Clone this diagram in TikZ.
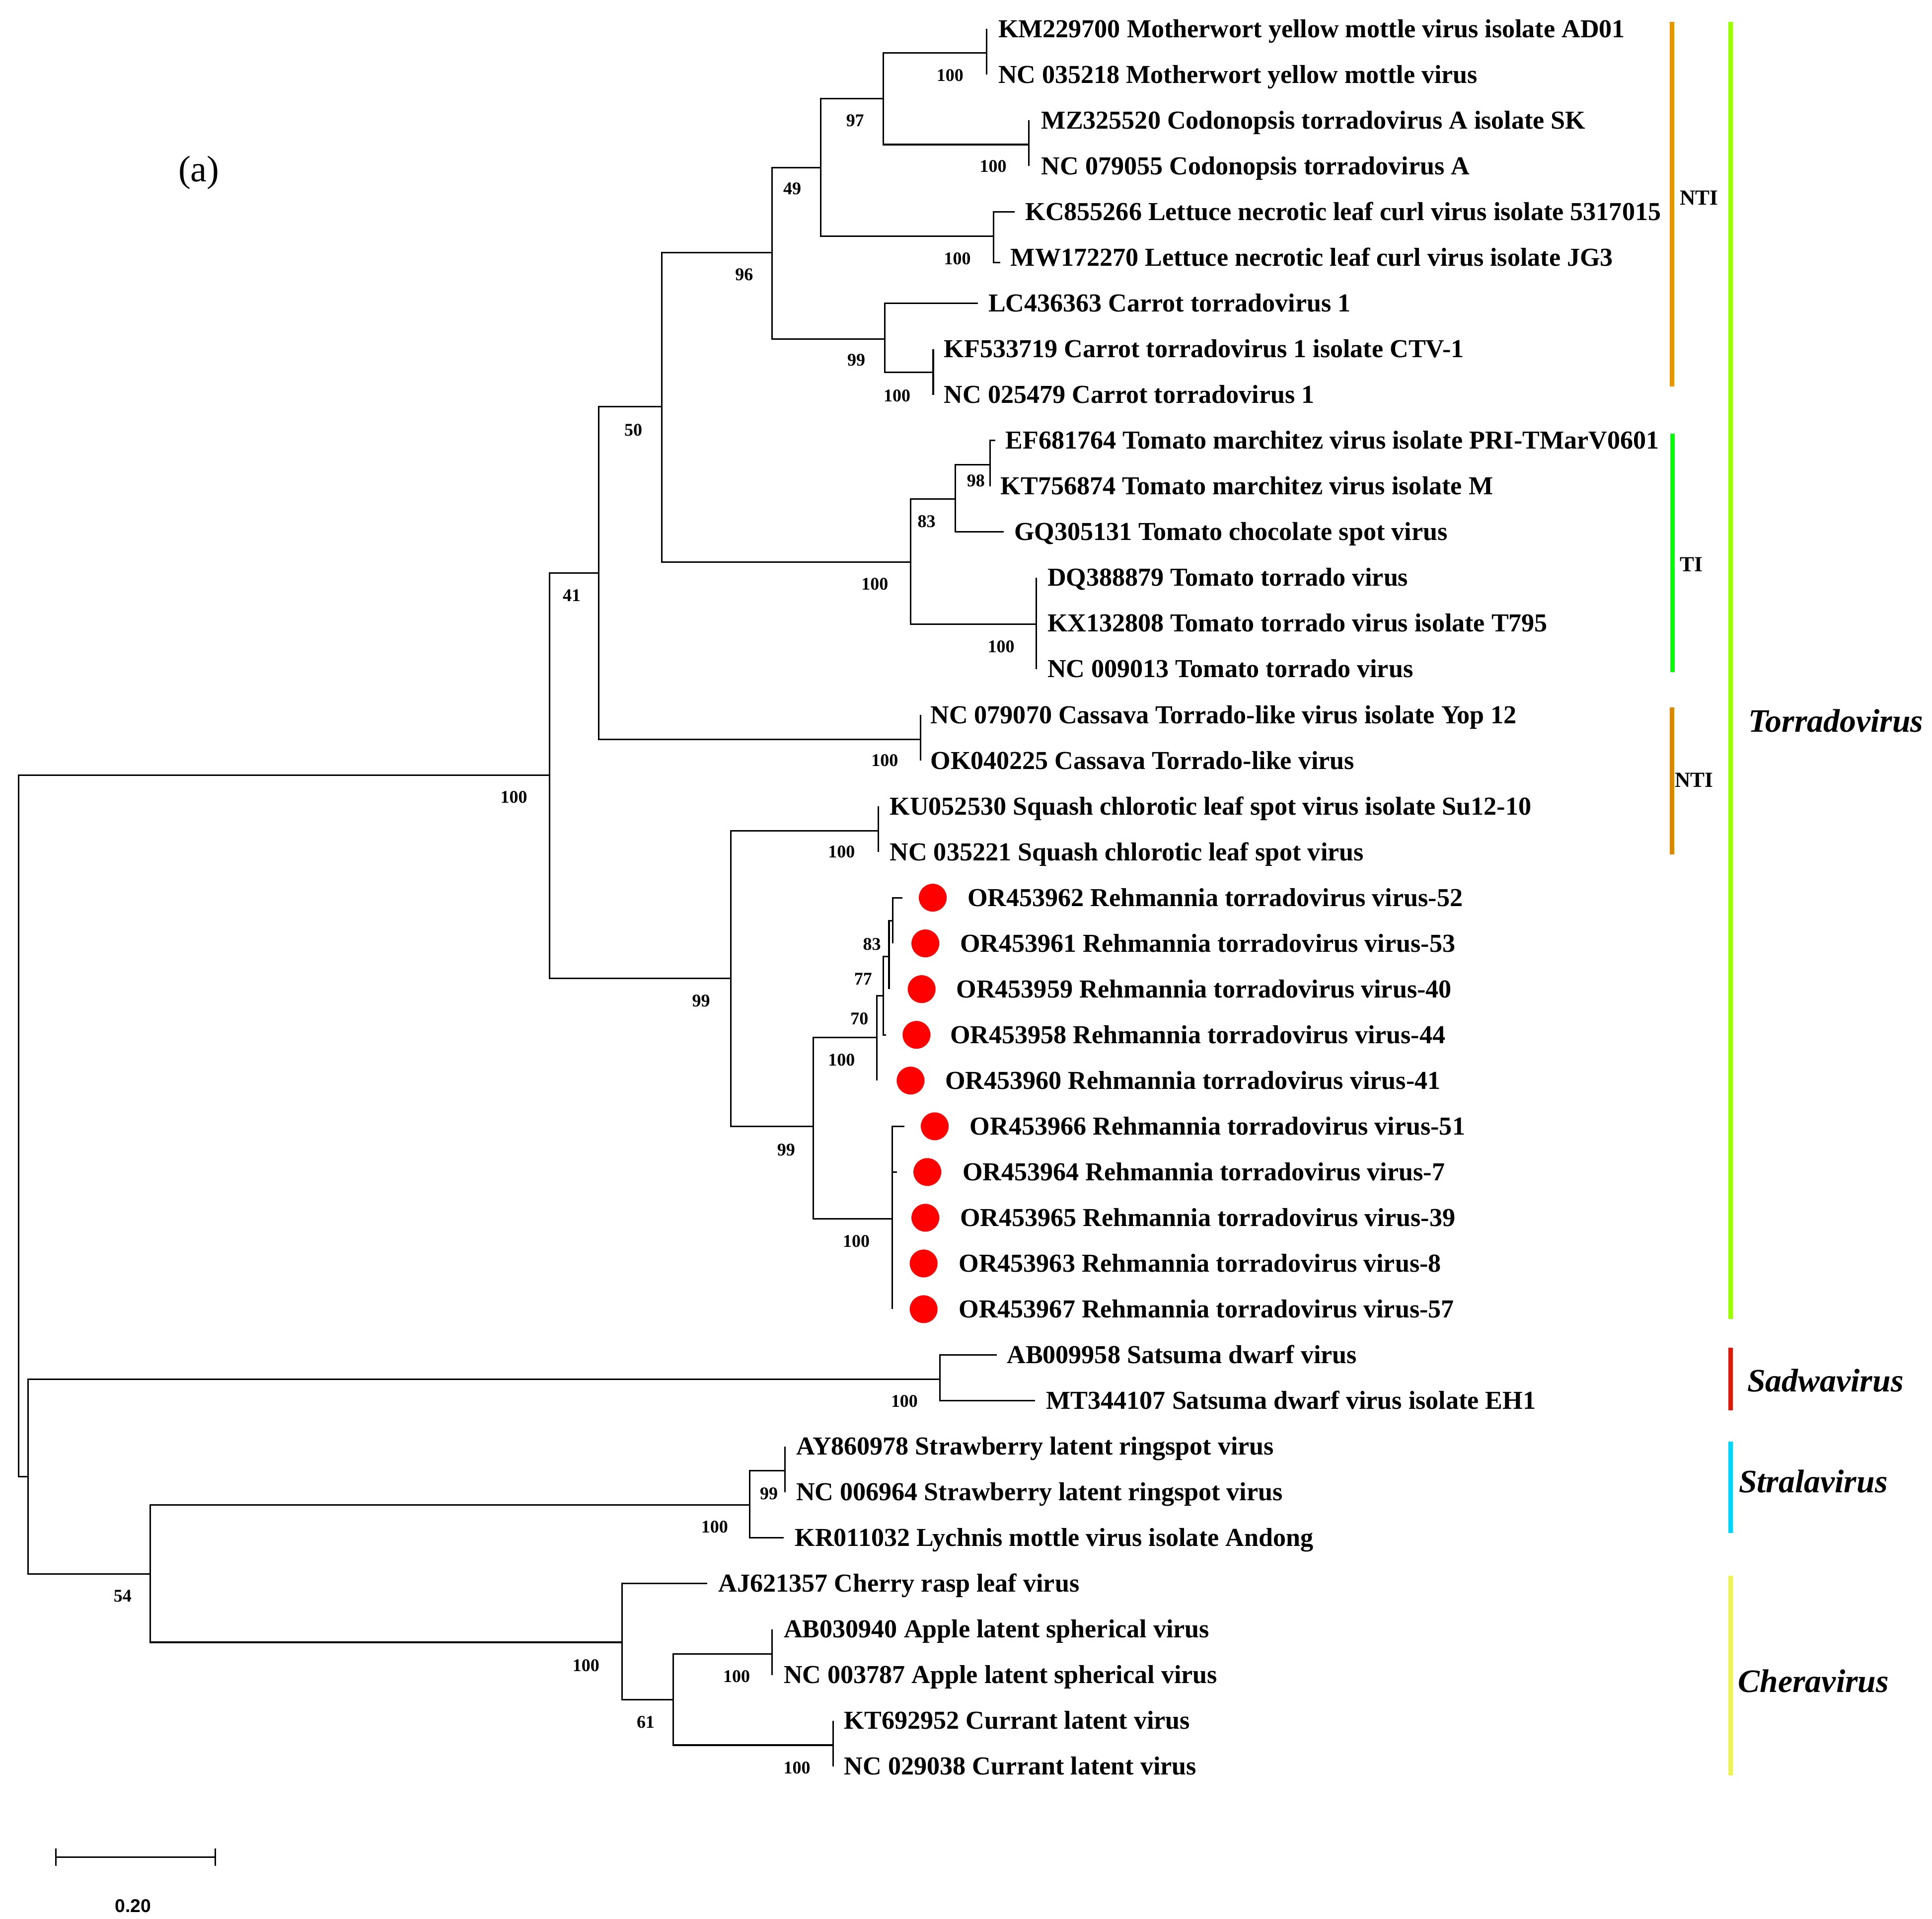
\documentclass[tikz,border=0pt]{standalone}
\usepackage{fontspec}
\setmainfont{Liberation Serif}
\newfontfamily\lsans{Liberation Sans}
\definecolor{ntiA}{RGB}{230,149,0}
\definecolor{ntiB}{RGB}{218,136,0}
\definecolor{tiG}{RGB}{0,255,0}
\definecolor{torG}{RGB}{153,255,0}
\definecolor{sadR}{RGB}{221,26,10}
\definecolor{strC}{RGB}{0,212,255}
\definecolor{cheY}{RGB}{238,242,90}
\begin{document}
\begin{tikzpicture}[x=1pt,y=-1pt,
  br/.style={line width=1.25pt, line join=miter},
  leaf/.style={anchor=base west, inner sep=0pt, font=\fontsize{21}{25}\selectfont\bfseries},
  bs/.style={anchor=center, inner sep=0pt, font=\fontsize{14.5}{17}\selectfont\bfseries},
  rdot/.style={circle, fill=red, draw=none, inner sep=0pt, minimum size=22.6pt},
  cbar/.style={line width=3.6pt},
  clade/.style={anchor=center, inner sep=0pt, font=\fontsize{17.5}{20}\selectfont\bfseries},
  genus/.style={anchor=west, inner sep=0pt, font=\fontsize{26.5}{30}\selectfont\bfseries\itshape},
]
\useasboundingbox (0,0) rectangle (1568,1557);

% ---------- internal nodes ----------
\coordinate (root) at (15,913);
\coordinate (nT) at (446,629);
\coordinate (n41) at (486,465);
\coordinate (n50) at (537,330);
\coordinate (n96) at (626.5,205);
\coordinate (n49) at (666,136);
\coordinate (n97) at (717,80);
\coordinate (nMot) at (800.6,43);
\coordinate (nCod) at (835,117.3);
\coordinate (nLet) at (806.5,191.6);
\coordinate (nCar) at (718,275);
\coordinate (nCarB) at (757.4,302);
\coordinate (nTom) at (739,456);
\coordinate (n83) at (775.2,405);
\coordinate (n98) at (803.4,377);
\coordinate (nTT) at (841,506.5);
\coordinate (nCas) at (747,600);
\coordinate (n99a) at (593,794);
\coordinate (nSq) at (713,674);
\coordinate (n99b) at (660,914);
\coordinate (nR1) at (711.5,842);
\coordinate (n70) at (716.7,808);
\coordinate (n77) at (721.5,776);
\coordinate (n83b) at (724.5,747);
\coordinate (nR2) at (724,989);
\coordinate (nB) at (22.8,1198);
\coordinate (nSad) at (763,1119);
\coordinate (n54) at (122,1277);
\coordinate (nStr) at (608.5,1221);
\coordinate (n99c) at (637,1193.4);
\coordinate (nChe) at (505,1332.6);
\coordinate (n61) at (546.4,1379);
\coordinate (nApp) at (626.7,1342);
\coordinate (nCur) at (676,1416);

% ---------- leaf tips ----------
\coordinate (L1) at (800.6,23.5);
\coordinate (L2) at (800.6,60.6);
\coordinate (L3) at (835,97.7);
\coordinate (L4) at (835,134.8);
\coordinate (L5) at (823.4,171.9);
\coordinate (L6) at (812,213);
\coordinate (L7) at (793.5,246.1);
\coordinate (L8) at (757.4,283.2);
\coordinate (L9) at (757.4,320.3);
\coordinate (L10) at (807.6,357.4);
\coordinate (L11) at (803.4,394.5);
\coordinate (L12) at (814.6,431.6);
\coordinate (L13) at (841,468.7);
\coordinate (L14) at (841,505.8);
\coordinate (L15) at (841,542.9);
\coordinate (L16) at (747,580);
\coordinate (L17) at (747,617.1);
\coordinate (L18) at (713,654.2);
\coordinate (L19) at (713,691.3);
\coordinate (L20) at (732.4,728.4);
\coordinate (L21) at (724.5,765.5);
\coordinate (L22) at (721.5,802.6);
\coordinate (L23) at (719,839.7);
\coordinate (L24) at (711.5,876.8);
\coordinate (L25) at (734,913.9);
\coordinate (L26) at (728,951);
\coordinate (L27) at (724,988.1);
\coordinate (L28) at (724,1025.2);
\coordinate (L29) at (724,1062.3);
\coordinate (L30) at (809,1099.4);
\coordinate (L31) at (840,1136.5);
\coordinate (L32) at (637,1173.6);
\coordinate (L33) at (637,1210.7);
\coordinate (L34) at (636,1247.8);
\coordinate (L35) at (574,1284.9);
\coordinate (L36) at (626.7,1322);
\coordinate (L37) at (626.7,1359.1);
\coordinate (L38) at (676,1396.2);
\coordinate (L39) at (676,1433.3);

% ---------- branches ----------
\draw[br] (root) |- (nT);
\draw[br] (root) |- (nB);
\draw[br] (nT) |- (n41);
\draw[br] (nT) |- (n99a);
\draw[br] (n41) |- (n50);
\draw[br] (n41) |- (nCas);
\draw[br] (n50) |- (n96);
\draw[br] (n50) |- (nTom);
\draw[br] (n96) |- (n49);
\draw[br] (n96) |- (nCar);
\draw[br] (n49) |- (n97);
\draw[br] (n49) |- (nLet);
\draw[br] (n97) |- (nMot);
\draw[br] (n97) |- (nCod);
\draw[br] (nMot) |- (L1);
\draw[br] (nMot) |- (L2);
\draw[br] (nCod) |- (L3);
\draw[br] (nCod) |- (L4);
\draw[br] (nLet) |- (L5);
\draw[br] (nLet) |- (L6);
\draw[br] (nCar) |- (L7);
\draw[br] (nCar) |- (nCarB);
\draw[br] (nCarB) |- (L8);
\draw[br] (nCarB) |- (L9);
\draw[br] (nTom) |- (n83);
\draw[br] (nTom) |- (nTT);
\draw[br] (n83) |- (n98);
\draw[br] (n83) |- (L12);
\draw[br] (n98) |- (L10);
\draw[br] (n98) |- (L11);
\draw[br] (nTT) |- (L13);
\draw[br] (nTT) |- (L15);
\draw[br] (nCas) |- (L16);
\draw[br] (nCas) |- (L17);
\draw[br] (n99a) |- (nSq);
\draw[br] (n99a) |- (n99b);
\draw[br] (nSq) |- (L18);
\draw[br] (nSq) |- (L19);
\draw[br] (n99b) |- (nR1);
\draw[br] (n99b) |- (nR2);
\draw[br] (nR1) |- (n70);
\draw[br] (nR1) |- (L24);
\draw[br] (n70) |- (n77);
\draw[br] (n70) |- (L23);
\draw[br] (n77) |- (n83b);
\draw[br] (n77) |- (L22);
\draw[br] (n83b) |- (L20);
\draw[br] (n83b) |- (L21);
\draw[br] (nR2) |- (L25);
\draw[br] (nR2) |- (L26);
\draw[br] (nR2) |- (L29);
\draw[br] (nB) |- (nSad);
\draw[br] (nB) |- (n54);
\draw[br] (nSad) |- (L30);
\draw[br] (nSad) |- (L31);
\draw[br] (n54) |- (nStr);
\draw[br] (n54) |- (nChe);
\draw[br] (nStr) |- (n99c);
\draw[br] (nStr) |- (L34);
\draw[br] (n99c) |- (L32);
\draw[br] (n99c) |- (L33);
\draw[br] (nChe) |- (L35);
\draw[br] (nChe) |- (n61);
\draw[br] (n61) |- (nApp);
\draw[br] (n61) |- (nCur);
\draw[br] (nApp) |- (L36);
\draw[br] (nApp) |- (L37);
\draw[br] (nCur) |- (L38);
\draw[br] (nCur) |- (L39);

% ---------- red dots ----------
\node[rdot] (d20) at (757,728.4) {};
\node[rdot] (d21) at (751,765.5) {};
\node[rdot] (d22) at (748,802.6) {};
\node[rdot] (d23) at (743.8,839.7) {};
\node[rdot] (d24) at (739,876.8) {};
\node[rdot] (d25) at (758.6,913.9) {};
\node[rdot] (d26) at (752.6,951) {};
\node[rdot] (d27) at (751,988.1) {};
\node[rdot] (d28) at (749.6,1025.2) {};
\node[rdot] (d29) at (749.6,1062.3) {};

% ---------- leaf labels ----------
\node[leaf] (t1) at (810,30.4) {KM229700 Motherwort yellow mottle virus isolate AD01};
\node[leaf] (t2) at (810,67.5) {NC 035218 Motherwort yellow mottle virus};
\node[leaf] (t3) at (845,104.6) {MZ325520 Codonopsis torradovirus A isolate SK};
\node[leaf] (t4) at (845,141.7) {NC 079055 Codonopsis torradovirus A};
\node[leaf] (t5) at (832,178.8) {KC855266 Lettuce necrotic leaf curl virus isolate 5317015};
\node[leaf] (t6) at (820,215.9) {MW172270 Lettuce necrotic leaf curl virus isolate JG3};
\node[leaf] (t7) at (802,253.0) {LC436363 Carrot torradovirus 1};
\node[leaf] (t8) at (766,290.1) {KF533719 Carrot torradovirus 1 isolate CTV-1};
\node[leaf] (t9) at (766,327.2) {NC 025479 Carrot torradovirus 1};
\node[leaf] (t10) at (816,364.3) {EF681764 Tomato marchitez virus isolate PRI-TMarV0601};
\node[leaf] (t11) at (812,401.4) {KT756874 Tomato marchitez virus isolate M};
\node[leaf] (t12) at (823,438.5) {GQ305131 Tomato chocolate spot virus};
\node[leaf] (t13) at (850,475.6) {DQ388879 Tomato torrado virus};
\node[leaf] (t14) at (850,512.7) {KX132808 Tomato torrado virus isolate T795};
\node[leaf] (t15) at (850,549.8) {NC 009013 Tomato torrado virus};
\node[leaf] (t16) at (755,586.9) {NC 079070 Cassava Torrado-like virus isolate Yop 12};
\node[leaf] (t17) at (755,624.0) {OK040225 Cassava Torrado-like virus};
\node[leaf] (t18) at (722,661.1) {KU052530 Squash chlorotic leaf spot virus isolate Su12-10};
\node[leaf] (t19) at (722,698.2) {NC 035221 Squash chlorotic leaf spot virus};
\node[leaf] (t20) at (785,735.3) {OR453962 Rehmannia torradovirus virus-52};
\node[leaf] (t21) at (779,772.4) {OR453961 Rehmannia torradovirus virus-53};
\node[leaf] (t22) at (776,809.5) {OR453959 Rehmannia torradovirus virus-40};
\node[leaf] (t23) at (771,846.6) {OR453958 Rehmannia torradovirus virus-44};
\node[leaf] (t24) at (767,883.7) {OR453960 Rehmannia torradovirus virus-41};
\node[leaf] (t25) at (787,920.8) {OR453966 Rehmannia torradovirus virus-51};
\node[leaf] (t26) at (781,957.9) {OR453964 Rehmannia torradovirus virus-7};
\node[leaf] (t27) at (779,995.0) {OR453965 Rehmannia torradovirus virus-39};
\node[leaf] (t28) at (778,1032.1) {OR453963 Rehmannia torradovirus virus-8};
\node[leaf] (t29) at (778,1069.2) {OR453967 Rehmannia torradovirus virus-57};
\node[leaf] (t30) at (817,1106.3) {AB009958 Satsuma dwarf virus};
\node[leaf] (t31) at (849,1143.4) {MT344107 Satsuma dwarf virus isolate EH1};
\node[leaf] (t32) at (646,1180.5) {AY860978 Strawberry latent ringspot virus};
\node[leaf] (t33) at (646,1217.6) {NC 006964 Strawberry latent ringspot virus};
\node[leaf] (t34) at (645,1254.7) {KR011032 Lychnis mottle virus isolate Andong};
\node[leaf] (t35) at (583,1291.8) {AJ621357 Cherry rasp leaf virus};
\node[leaf] (t36) at (636,1328.9) {AB030940 Apple latent spherical virus};
\node[leaf] (t37) at (636,1366.0) {NC 003787 Apple latent spherical virus};
\node[leaf] (t38) at (685,1403.1) {KT692952 Currant latent virus};
\node[leaf] (t39) at (685,1440.2) {NC 029038 Currant latent virus};

% ---------- bootstrap values ----------
\node[bs] (b1) at (417,647) {100};
\node[bs] (b2) at (464,483) {41};
\node[bs] (b3) at (514,349) {50};
\node[bs] (b4) at (604,223) {96};
\node[bs] (b5) at (643,153) {49};
\node[bs] (b6) at (694,98) {97};
\node[bs] (b7) at (771,61) {100};
\node[bs] (b8) at (806,135) {100};
\node[bs] (b9) at (777,210) {100};
\node[bs] (b10) at (695,292) {99};
\node[bs] (b11) at (728,321) {100};
\node[bs] (b12) at (710,474) {100};
\node[bs] (b13) at (752,423) {83};
\node[bs] (b14) at (792,390) {98};
\node[bs] (b15) at (812.5,524.5) {100};
\node[bs] (b16) at (718,617) {100};
\node[bs] (b17) at (569,812) {99};
\node[bs] (b18) at (683,691) {100};
\node[bs] (b19) at (638,933) {99};
\node[bs] (b20) at (683,860) {100};
\node[bs] (b21) at (707.7,766) {83};
\node[bs] (b22) at (700.5,794.5) {77};
\node[bs] (b23) at (697.5,826.8) {70};
\node[bs] (b24) at (695,1007) {100};
\node[bs] (b25) at (734,1137) {100};
\node[bs] (b26) at (624,1212) {99};
\node[bs] (b27) at (580,1239) {100};
\node[bs] (b28) at (99.5,1295) {54};
\node[bs] (b29) at (475.6,1351.4) {100};
\node[bs] (b30) at (524,1397.3) {61};
\node[bs] (b31) at (597.8,1360.3) {100};
\node[bs] (b32) at (646.8,1434.3) {100};

% ---------- clade bars ----------
\draw[cbar, ntiA] (1357,17.6) -- (1357,313.7);
\draw[cbar, tiG] (1357.5,351.7) -- (1357.5,545.2);
\draw[cbar, ntiB] (1357,573.8) -- (1357,693.2);
\draw[cbar, torG] (1404.5,17.6) -- (1404.5,1070);
\draw[cbar, sadR] (1404.5,1093.4) -- (1404.5,1144.3);
\draw[cbar, strC] (1404.5,1169.7) -- (1404.5,1243.8);
\draw[cbar, cheY] (1404.5,1278.5) -- (1404.5,1440.5);

\node[clade] (c1) at (1379,160.6) {NTI};
\node[clade] (c2) at (1372.6,458) {TI};
\node[clade] (c3) at (1375,633) {NTI};
\node[genus] (g1) at (1418.8,585) {Torradovirus};
\node[genus] (g2) at (1418,1120) {Sadwavirus};
\node[genus] (g3) at (1411,1202) {Stralavirus};
\node[genus] (g4) at (1410.5,1364) {Cheravirus};

% ---------- panel label and scale ----------
\node[inner sep=0pt, font=\fontsize{30}{34}\selectfont] (pa) at (161.4,140) {(a)};
\coordinate (s1) at (45.2,1507);
\coordinate (s2) at (174.7,1507);
\draw[line width=1.25pt] (s1) -- (s2);
\draw[line width=1.25pt] ([yshift=7pt]s1) -- ([yshift=-7pt]s1);
\draw[line width=1.25pt] ([yshift=7pt]s2) -- ([yshift=-7pt]s2);
\node[inner sep=0pt, font=\lsans\fontsize{15}{18}\selectfont\bfseries] (sl) at (108,1546.5) {0.20};
\end{tikzpicture}
\end{document}
